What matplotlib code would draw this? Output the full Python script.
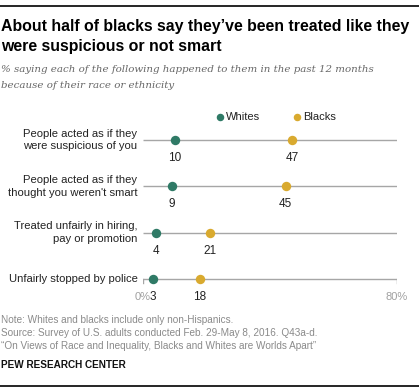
"""
  Pew dot plot: treated like suspicious / not smart, whites vs blacks.
"""
import matplotlib as mpl
from matplotlib import pyplot as plt
from matplotlib.lines import Line2D

CATEGORIES = [
    "People acted as if they\nwere suspicious of you",
    "People acted as if they\nthought you weren't smart",
    "Treated unfairly in hiring,\npay or promotion",
    "Unfairly stopped by police",
]
WHITES = [10, 9, 4, 3]
BLACKS = [47, 45, 21, 18]
X_TICKS = [0, 80]
X_TICK_LABELS = ["0%", "80%"]

GREEN = "#2f7a66"
GOLD = "#d9aa2f"
LINE_GREY = "#a6a6a6"

W, H = 419, 392
mpl.rcParams['font.family'] = ['Liberation Sans', 'DejaVu Sans']

fig = plt.figure(figsize=(W / 100, H / 100), dpi=100)


def fy(py):
    # pixel row from top -> figure fraction
    return 1 - py / H


# rules at top and bottom
fig.add_artist(Line2D([0, 1], [fy(6), fy(6)], color="black", lw=1.2))
fig.add_artist(Line2D([0, 1], [fy(386), fy(386)], color="black", lw=1.2))

fig.text(0.002, fy(26), "About half of blacks say they\u2019ve been treated like they",
         fontsize=11.4, weight='bold', va='center', ha='left')
fig.text(0.002, fy(47), "were suspicious or not smart",
         fontsize=11.4, weight='bold', va='center', ha='left')
fig.text(0.002, fy(70),
         "% saying each of the following happened to them in the past 12 months",
         fontsize=7.4, style='italic', family='DejaVu Serif', color="#666666",
         va='center', ha='left')
fig.text(0.002, fy(86), "because of their race or ethnicity",
         fontsize=7.4, style='italic', family='DejaVu Serif', color="#666666",
         va='center', ha='left')

# chart axes: x 0..80 from px 143 to 396.5, rows at px 140..279
ax = fig.add_axes([143 / W, fy(302.2), 253.5 / W, (302.2 - 116.8) / H])
ax.set_xlim(0, 80)
ax.set_ylim(len(CATEGORIES) - 0.5, -0.5)
ax.axis('off')

for i, cat in enumerate(CATEGORIES):
    ax.plot([0, 80], [i, i], color=LINE_GREY, lw=1, zorder=1, solid_capstyle='butt')
    ax.annotate(cat, (0, i), xytext=(-4, 0), textcoords='offset points',
                ha='right', va='center', fontsize=8.1, color="#222222",
                linespacing=1.3)
    ax.annotate(str(WHITES[i]), (WHITES[i], i), xytext=(0, -13),
                textcoords='offset points', ha='center', va='center',
                fontsize=8.5, color="#222222")
    ax.annotate(str(BLACKS[i]), (BLACKS[i], i), xytext=(0, -13),
                textcoords='offset points', ha='center', va='center',
                fontsize=8.5, color="#222222")

ax.scatter(WHITES, range(len(WHITES)), s=46, color=GREEN, zorder=3, lw=0)
ax.scatter(BLACKS, range(len(BLACKS)), s=46, color=GOLD, zorder=3, lw=0)

# end ticks on bottom row
last = len(CATEGORIES) - 1
for xt, lab in zip(X_TICKS, X_TICK_LABELS):
    ax.plot([xt, xt], [last, last + 0.09], color=LINE_GREY, lw=1, zorder=1)
    ax.annotate(lab, (xt, last), xytext=(0, -13), textcoords='offset points',
                ha='center', va='center', fontsize=8, color="#a0a0a0")

# legend
fig.text(226 / W, fy(117), "Whites", fontsize=8, color="#222222", va='center')
fig.text(303 / W, fy(117), "Blacks", fontsize=8, color="#222222", va='center')
fig.add_artist(Line2D([219.5 / W], [fy(117)], marker='o', ms=4.4, color=GREEN, lw=0))
fig.add_artist(Line2D([296.5 / W], [fy(117)], marker='o', ms=4.4, color=GOLD, lw=0))

NOTES = [
    "Note: Whites and blacks include only non-Hispanics.",
    "Source: Survey of U.S. adults conducted Feb. 29-May 8, 2016. Q43a-d.",
    "\u201cOn Views of Race and Inequality, Blacks and Whites are Worlds Apart\u201d",
]
for k, note in enumerate(NOTES):
    fig.text(0.002, fy(320 + 13 * k), note, fontsize=7.2, color="#8a8a8a",
             va='center', ha='left')
fig.text(0.002, fy(365), "PEW RESEARCH CENTER", fontsize=7.2, weight='bold',
         color="#111111", va='center', ha='left')

fig.savefig('out.png', dpi=100)
